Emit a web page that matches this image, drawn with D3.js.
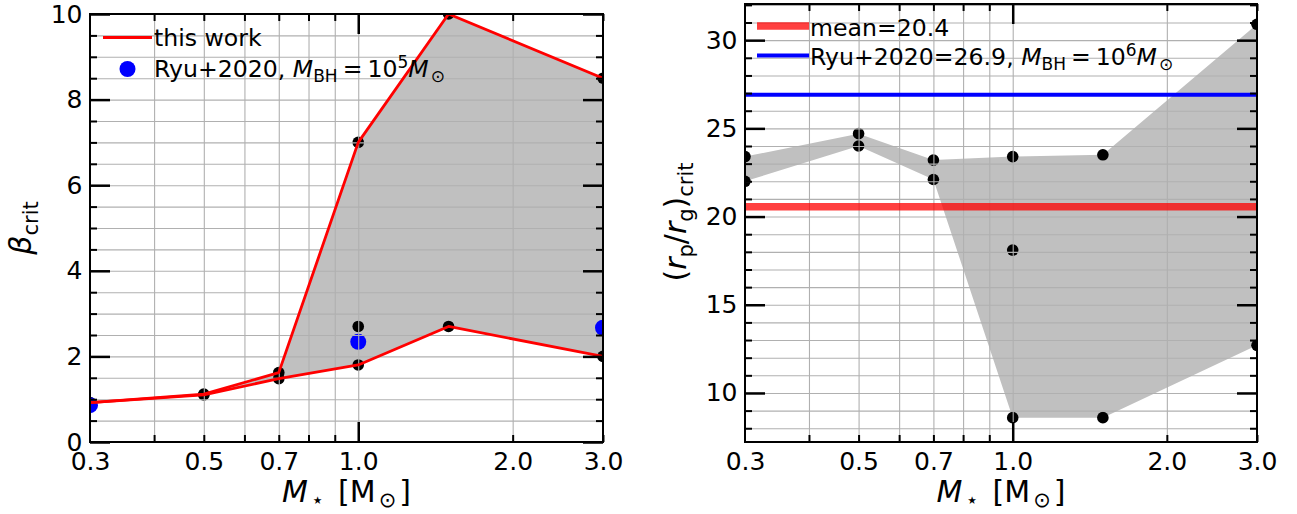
<!DOCTYPE html>
<html><head><meta charset="utf-8">
<script src="https://cdn.jsdelivr.net/npm/d3@7"></script>
<style>body{margin:0;background:#fff} svg text{font-family:"DejaVu Sans",sans-serif;fill:#000}</style>
</head><body><svg id="c" width="1297" height="514"></svg>
<script>
// ---------- data ----------
const masses = [0.3, 0.5, 0.7, 1.0, 1.5, 3.0];
const betaUpper = [0.92, 1.12, 1.62, 7.0, 10.0, 8.5];
const betaLower = [0.92, 1.10, 1.48, 1.8, 2.7, 2.0];
const betaPtsM = [0.3, 0.5, 0.5, 0.7, 0.7, 1.0, 1.0, 1.0, 1.5, 1.5, 3.0, 3.0];
const betaPtsV = [0.92, 1.12, 1.10, 1.62, 1.48, 7.0, 2.7, 1.8, 10.0, 2.7, 8.5, 2.0];
const ryuBetaM = [0.3, 1.0, 3.0];
const ryuBetaV = [0.86, 2.34, 2.67];
const rpPtsM = [0.3, 0.3, 0.5, 0.5, 0.7, 0.7, 1.0, 1.0, 1.0, 1.5, 1.5, 3.0, 3.0];
const rpPtsV = [23.4, 22.0, 24.7, 24.0, 23.2, 22.1, 23.4, 18.1, 8.6, 23.5, 8.6, 30.9, 12.7];
const rpUpper = [23.4, 24.7, 23.2, 23.4, 23.5, 30.9];
const rpLower = [22.0, 24.0, 22.1, 8.6, 8.6, 12.7];
const meanValue = 20.55;
const meanLabel = "mean=20.4";
const ryuRpValue = 26.9;
const xTickValues = [0.3, 0.5, 0.7, 1.0, 2.0, 3.0];
const xTickLabels = ["0.3", "0.5", "0.7", "1.0", "2.0", "3.0"];
const xMinor = [0.4, 0.5, 0.6, 0.7, 0.8, 0.9, 2, 3];
const xMajor = [1];
const betaYTicks = [0, 2, 4, 6, 8, 10];
const rpYTicks = [10, 15, 20, 25, 30];

const svg = d3.select("#c");
const LEG = 23.6;

function styleAxis(g, w) {
  g.select(".domain").remove();
  g.selectAll(".tick line").attr("stroke", "#000").attr("stroke-width", w);
  g.attr("font-family", null).attr("font-size", null);
}

function panel(o) {
  const x = d3.scaleLog().domain([0.3, 3.0]).range([o.L, o.R]);
  const y = d3.scaleLinear().domain(o.yDom).range([o.B, o.T]);
  const g = svg.append("g");
  const cid = "clip" + o.id;
  svg.append("clipPath").attr("id", cid).append("rect")
    .attr("x", o.L).attr("y", o.T).attr("width", o.R - o.L).attr("height", o.B - o.T);
  const plot = g.append("g").attr("clip-path", `url(#${cid})`);

  // fill
  const fillData = masses.map((m, i) => ({m, lo: o.lower[i], hi: o.upper[i]}));
  plot.append("path").datum(fillData)
    .attr("d", d3.area().x(d => x(d.m)).y0(d => y(d.lo)).y1(d => y(d.hi)))
    .attr("fill", "#c0c0c0");

  // points
  plot.selectAll(".pt").data(o.ptsM.map((m, i) => ({m, v: o.ptsV[i]}))).join("circle")
    .attr("cx", d => x(d.m)).attr("cy", d => y(d.v)).attr("r", 5.8).attr("fill", "#000");
  if (o.ryuM) {
    plot.selectAll(".ry").data(o.ryuM.map((m, i) => ({m, v: o.ryuV[i]}))).join("circle")
      .attr("cx", d => x(d.m)).attr("cy", d => y(d.v)).attr("r", 8).attr("fill", "#0000ff");
  }

  // grid (above scatter, below lines)
  const yMinorVals = d3.range(Math.ceil(o.yDom[0] / o.yMinor) * o.yMinor, o.yDom[1] + 1e-9, o.yMinor);
  const gx = plot.append("g").attr("transform", `translate(0,${o.B})`)
    .call(d3.axisBottom(x).tickValues(xMinor.concat(xMajor)).tickSize(-(o.B - o.T)).tickFormat(""));
  gx.select(".domain").remove();
  gx.selectAll("line").attr("stroke", "#b0b0b0").attr("stroke-width", 1.1);
  const gy = plot.append("g").attr("transform", `translate(${o.L},0)`)
    .call(d3.axisLeft(y).tickValues(yMinorVals).tickSize(-(o.R - o.L)).tickFormat(""));
  gy.select(".domain").remove();
  gy.selectAll("line").attr("stroke", "#b0b0b0").attr("stroke-width", 1.1);

  // lines
  if (o.drawLines) {
    const ln = d3.line().x(d => x(d.m)).y(d => y(d.v));
    [o.upper, o.lower].forEach(arr => {
      plot.append("path").datum(masses.map((m, i) => ({m, v: arr[i]})))
        .attr("d", ln).attr("fill", "none").attr("stroke", "#ff0000")
        .attr("stroke-width", 2.8).attr("stroke-linejoin", "round");
    });
  }
  if (o.hlines) {
    o.hlines.forEach(h => {
      plot.append("line").attr("x1", o.L).attr("x2", o.R)
        .attr("y1", y(h.v)).attr("y2", y(h.v))
        .attr("stroke", h.color).attr("stroke-opacity", h.op).attr("stroke-width", h.w);
    });
  }

  // ticks (inward, all sides)
  const yMajorVals = o.yTicks;
  const yMinorOnly = yMinorVals.filter(v => !yMajorVals.some(t => Math.abs(t - v) < 1e-9));
  const axes = [
    [d3.axisBottom(x).tickValues(xMinor), o.B, true, 7, 2],
    [d3.axisBottom(x).tickValues(xMajor), o.B, true, 20, 2.5],
    [d3.axisTop(x).tickValues(xMinor), o.T, true, 7, 2],
    [d3.axisTop(x).tickValues(xMajor), o.T, true, 20, 2.5],
    [d3.axisLeft(y).tickValues(yMinorOnly), o.L, false, 7, 2],
    [d3.axisLeft(y).tickValues(yMajorVals), o.L, false, 20, 2.5],
    [d3.axisRight(y).tickValues(yMinorOnly), o.R, false, 7, 2],
    [d3.axisRight(y).tickValues(yMajorVals), o.R, false, 20, 2.5],
  ];
  axes.forEach(([ax, pos, horiz, len, w]) => {
    const a = g.append("g").attr("transform", horiz ? `translate(0,${pos})` : `translate(${pos},0)`)
      .call(ax.tickSize(-len).tickFormat(""));
    styleAxis(a, w);
  });

  // tick labels
  const lx = g.append("g").attr("transform", `translate(0,${o.B})`)
    .call(d3.axisBottom(x).tickValues(xTickValues).tickFormat((d, i) => xTickLabels[i]).tickSize(0).tickPadding(10));
  styleAxis(lx, 0);
  lx.selectAll("text").attr("font-size", 25);
  const ly = g.append("g").attr("transform", `translate(${o.L},0)`)
    .call(d3.axisLeft(y).tickValues(yMajorVals).tickFormat(d3.format("d")).tickSize(0).tickPadding(7.5));
  styleAxis(ly, 0);
  ly.selectAll("text").attr("font-size", 25);

  // spines
  g.append("rect").attr("x", o.L).attr("y", o.T).attr("width", o.R - o.L).attr("height", o.B - o.T)
    .attr("fill", "none").attr("stroke", "#000").attr("stroke-width", 2);

  // x label
  const xl = g.append("text").attr("x", (o.L + o.R) / 2).attr("y", 502).attr("text-anchor", "middle").attr("font-size", 30);
  xl.append("tspan").attr("font-style", "italic").text("M");
  xl.append("tspan").attr("font-size", 21).attr("dx", 3).attr("dy", 5).text("\u22C6");
  xl.append("tspan").attr("dx", 14).attr("dy", -5).text("[M");
  xl.append("tspan").attr("font-size", 21).attr("dx", 3).attr("dy", 5).text("\u2299");
  xl.append("tspan").attr("dx", 3).attr("dy", -5).text("]");
  return {x, y, g};
}

function mathTail(t, size, sup) {
  const s = Math.round(size * 0.7);
  t.append("tspan").attr("font-style", "italic").text("M");
  t.append("tspan").attr("font-size", s).attr("dy", 5).text("BH");
  t.append("tspan").attr("dy", -5).attr("dx", 5).text("=");
  t.append("tspan").attr("dx", 5).text("10");
  t.append("tspan").attr("font-size", s).attr("dy", -9).text(sup);
  t.append("tspan").attr("font-style", "italic").attr("dy", 9).text("M");
  t.append("tspan").attr("font-size", s).attr("dx", 2).attr("dy", 5).text("\u2299");
}

// ---------- left panel ----------
panel({id: 1, L: 90, R: 603, T: 14, B: 442, yDom: [0, 10], yMinor: 0.5, yTicks: betaYTicks,
  upper: betaUpper, lower: betaLower, ptsM: betaPtsM, ptsV: betaPtsV, ryuM: ryuBetaM, ryuV: ryuBetaV, drawLines: true});

const yl1 = svg.append("text").attr("transform", "translate(31,228) rotate(-90)").attr("text-anchor", "middle").attr("font-size", 30);
yl1.append("tspan").attr("font-style", "italic").text("\u03B2");
yl1.append("tspan").attr("font-size", 21).attr("dy", 7).text("crit");

// left legend
svg.append("line").attr("x1", 103).attr("x2", 152).attr("y1", 37.5).attr("y2", 37.5).attr("stroke", "#ff0000").attr("stroke-width", 2.8);
svg.append("text").attr("x", 154).attr("y", 46).attr("font-size", LEG).text("this work");
svg.append("circle").attr("cx", 127.5).attr("cy", 69).attr("r", 8).attr("fill", "#0000ff");
const lt2 = svg.append("text").attr("x", 154).attr("y", 76.5).attr("font-size", LEG);
lt2.append("tspan").text("Ryu+2020, ");
mathTail(lt2, LEG, "5");

// ---------- right panel ----------
panel({id: 2, L: 745, R: 1257, T: 4, B: 442, yDom: [7.22, 32.05], yMinor: 1, yTicks: rpYTicks,
  upper: rpUpper, lower: rpLower, ptsM: rpPtsM, ptsV: rpPtsV, drawLines: false,
  hlines: [{v: meanValue, color: "#ff0000", op: 0.75, w: 7.5}, {v: ryuRpValue, color: "#0000ff", op: 1, w: 4}]});

const yl2 = svg.append("text").attr("transform", "translate(686,222) rotate(-90)").attr("text-anchor", "middle").attr("font-size", 30);
yl2.append("tspan").text("(");
yl2.append("tspan").attr("font-style", "italic").text("r");
yl2.append("tspan").attr("font-size", 21).attr("dy", 7).text("p");
yl2.append("tspan").attr("dy", -7).text("/");
yl2.append("tspan").attr("font-style", "italic").text("r");
yl2.append("tspan").attr("font-size", 21).attr("dy", 7).text("g");
yl2.append("tspan").attr("dy", -7).text(")");
yl2.append("tspan").attr("font-size", 21).attr("dy", 7).text("crit");

// right legend
svg.append("line").attr("x1", 757).attr("x2", 809).attr("y1", 26).attr("y2", 26).attr("stroke", "#ff0000").attr("stroke-opacity", 0.75).attr("stroke-width", 7.5);
svg.append("text").attr("x", 810).attr("y", 35.5).attr("font-size", LEG).text(meanLabel);
svg.append("line").attr("x1", 757).attr("x2", 809).attr("y1", 55.5).attr("y2", 55.5).attr("stroke", "#0000ff").attr("stroke-width", 4);
const rt2 = svg.append("text").attr("x", 810).attr("y", 65).attr("font-size", LEG);
rt2.append("tspan").text("Ryu+2020=26.9, ");
mathTail(rt2, LEG, "6");
</script></body></html>
